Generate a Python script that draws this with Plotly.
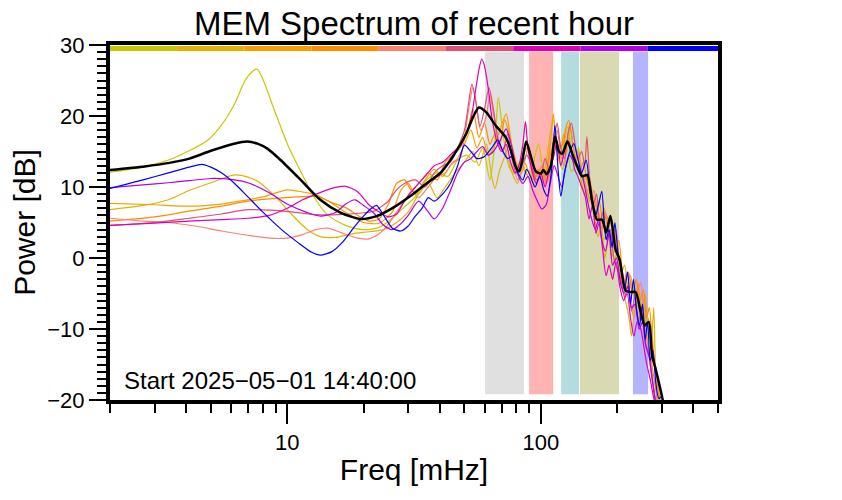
import plotly.graph_objects as go

# ---------------- data ----------------
# Mean spectrum (black)
mean_pts = [(2,12.4),(2.74,12.9),(3.43,13.4),(4.11,14.0),(5.0,15.1),(6.17,16.1),(6.97,16.4),(7.63,16.1),
            (8.35,15.4),(9.41,13.8),(11.3,11.0),(13.5,8.2),(16.2,6.4),(19.4,5.5),(22.5,5.9),(26.2,7.1),
            (30.5,8.7),(35.4,10.5),(40,11.9),(45,14.3),(50.8,17.5),(54,19.8),(57,21.2),(61,20.5),(66.9,18.5),
            (71,17.5),(73.3,16.8),(76.1,15.2),(79.6,12.9),(82.2,12.2),(84.6,13.8),(87.6,16.4),(91.4,14.3),
            (95.6,12.2),(100,11.9),(102.5,12.4),(105.3,11.8),(109.5,12.9),(113.8,17.1),(118,15.0),(121.6,14.7),
            (127.3,16.4),(133.1,14.7),(139.2,12.9),(145.5,11.5),(152.3,11.7),(159.2,8.2),(166.7,5.4),
            (174.5,5.4),(181.1,3.6),(188.2,5.9),(197.2,1.2),(204.6,-0.2),(216.1,-4.6),(226.1,-4.8),
            (236.6,-4.8),(247.7,-7.6),(257.1,-9.5),(266.6,-9.0),(274.7,-13.7),(283.2,-15.5),(291.6,-17.4),
            (300.7,-19.5),(306,-21)]

s1_pts = [(2,12.1),(2.7,12.8),(3.4,13.8),(4.1,15.1),(4.9,16.7),(5.5,18.7),(6.2,21.7),(6.9,25.3),(7.6,26.6),
          (8.9,20.8),(10,16.1),(11.3,12.2),(12.7,8.7),(14.5,6.0),(17,4.6),(20,4.0),(23,4.3),(26,5.6),(29,7.2),
          (32,8.6),(35,10.8),(39,12.0),(43,11.5),(47,13.8),(51,14.5),(55,13.5),(59,15.5),(63,11.0),(66,16.5),
          (68,22.6),(71,17.5),(75,12.8),(79,11.8),(83,13.5),(87,12.0),(91,11.3),(95,14.5),(98,16.1),(102,12.5),
          (106,11.0),(110,13.5),(114,17.0),(118,13.8),(122,12.5),(127,15.5),(132,12.2),(137,13.0),(141,15.6),
          (146,11.0),(152,9.5),(158,7.8),(164,5.5),(170,6.2),(177,2.5),(184,3.8),(191,0.3),(198,1.5),
          (206,-2.5),(214,-1.0),(222,-4.5),(230,-3.5),(238,-6.0),(246,-7.5),(254,-6.5),(262,-10.5),
          (270,-14.0),(278,-17.5),(286,-21)]

s2_pts = [(2,6.8),(2.7,7.4),(3.4,8.2),(4.1,9.5),(5,10.6),(6.2,11.7),(7,11.4),(7.8,10.6),(9,8.6),(10.5,6.0),
          (12,4.0),(13.5,3.0),(15.5,2.9),(18,3.4),(21,3.7),(24,4.0),(27,5.0),(30,6.5),(33,9.0),(36,10.5),
          (39,8.5),(42,10.0),(46,12.0),(50,13.5),(54,15.0),(57,13.0),(61,16.0),(64,11.5),(66,9.8),(69,12.5),
          (73,14.5),(77,12.0),(81,10.5),(85,13.0),(89,11.5),(93,10.0),(97,12.5),(101,11.0),(105,13.5),
          (109,17.5),(112,19.5),(116,15.0),(120,13.0),(124,16.5),(128,18.5),(132,15.0),(136,13.0),(140,14.0),
          (145,10.5),(150,9.0),(156,10.0),(162,6.5),(168,3.0),(173,4.5),(179,0.0),(185,3.0),(192,-1.0),
          (199,0.5),(206,-3.0),(214,-5.5),(222,-8.0),(228,-11.0),(235,-6.5),(242,-9.0),(250,-6.5),
          (258,-10.5),(266,-8.5),(272,-13.0),(279,-7.0),(283,-15.0),(288,-21)]

s3_pts = [(2,7.7),(3,7.5),(4.1,7.3),(5.5,7.6),(6.5,8.0),(8,8.6),(10,9.6),(11.5,9.3),(13,8.9),(15,7.7),
          (17,6.4),(20,5.0),(23,4.9),(26,6.5),(28,9.5),(30,10.5),(32,9.0),(35,11.0),(38,12.5),(41,11.5),
          (44,13.0),(47,14.0),(50,16.0),(53,18.0),(56,15.5),(59,17.0),(62,14.5),(65,15.5),(69,18.0),
          (73,20.3),(76,17.0),(79,13.5),(82,12.5),(86,13.5),(90,12.0),(94,11.0),(98,12.5),(102,10.5),
          (106,13.0),(109,16.0),(112,20.3),(115,16.5),(119,14.0),(123,17.5),(126,15.0),(130,19.0),
          (134,16.0),(138,13.5),(143,12.5),(148,11.0),(154,12.0),(160,9.0),(166,7.0),(172,5.5),(178,7.0),
          (184,4.0),(190,5.5),(196,1.0),(203,2.5),(210,-2.0),(218,-4.0),(226,-2.5),(234,-5.5),(242,-3.5),
          (250,-7.5),(258,-5.0),(265,-10.0),(272,-9.5),(279,-14.0),(286,-16.0),(293,-19.0),(298,-21)]

s4_pts = [(2,5.2),(3,5.8),(4.1,6.6),(5.5,7.3),(7,8.0),(9,8.4),(11,8.6),(13,8.7),(15,7.8),(17,7.1),(19,6.0),
          (21,5.2),(23,5.5),(25,7.5),(27,10.5),(29,11.0),(31,9.5),(33,10.5),(36,12.0),(39,11.0),(42,13.5),
          (45,14.5),(48,15.5),(51,17.5),(54,21.0),(57,17.0),(60,19.0),(63,16.0),(66,17.5),(69,16.0),
          (72,19.5),(75,17.5),(78,15.0),(81,13.0),(84,14.0),(88,15.5),(92,13.0),(96,11.5),(100,12.5),
          (104,11.0),(108,14.0),(111,15.5),(114,17.0),(118,15.5),(122,16.0),(126,18.5),(129,19.4),
          (133,16.5),(137,14.0),(142,12.0),(147,13.5),(152,11.0),(158,8.5),(164,6.5),(170,8.0),(176,5.0),
          (182,6.0),(188,3.0),(194,4.5),(200,0.5),(207,-1.0),(214,-3.5),(222,-2.0),(230,-5.0),(238,-3.0),
          (246,-6.0),(254,-4.5),(261,-8.5),(268,-7.0),(275,-12.0),(282,-15.0),(290,-18.5),(296,-21)]

s5_pts = [(2,5.6),(2.7,5.2),(3.4,5.0),(4.5,4.4),(5.5,3.8),(7,3.2),(8.5,2.8),(10,2.8),(11.5,3.3),(13,4.0),
          (14.5,4.2),(16.5,3.5),(19,2.8),(21,2.7),(23,3.4),(25,4.7),(27,6.5),(29,8.0),(31,9.5),(33,8.5),
          (36,10.0),(39,11.5),(42,12.0),(45,13.5),(48,14.0),(50,17.0),(52,21.0),(54,24.0),(56,21.0),
          (58,18.0),(61,20.0),(63,23.0),(66,19.0),(69,16.0),(72,14.5),(75,16.0),(78,13.5),(81,11.0),
          (85,12.5),(89,15.5),(93,12.5),(97,11.5),(101,13.0),(105,10.5),(109,12.0),(112,15.0),(116,18.0),
          (120,14.5),(124,13.0),(128,17.0),(132,15.5),(136,13.5),(140,15.0),(145,12.0),(150,10.5),
          (156,8.0),(162,9.5),(168,6.0),(174,4.0),(180,6.5),(186,3.5),(192,2.0),(198,4.0),(205,-1.0),
          (212,-3.5),(219,-2.0),(226,-6.0),(233,-8.5),(240,-5.0),(248,-3.5),(255,-8.0),(262,-11.5),
          (270,-13.5),(277,-16.0),(284,-18.5),(290,-21)]

s6_pts = [(2,4.6),(3,5.0),(4.1,5.6),(5.5,6.2),(7,6.8),(9,6.7),(11,6.4),(13,6.1),(16,6.1),(19,6.3),(22,6.6),
          (25,8.0),(27,9.6),(29,10.5),(32,11.0),(35,10.0),(38,12.0),(41,13.0),(44,13.5),(47,15.5),(50,18.0),
          (52,22.0),(53.5,24.5),(55.5,22.0),(57.5,18.5),(60,21.0),(62.5,24.0),(65,21.0),(68,16.5),(71,15.0),
          (74,17.5),(77,14.0),(80,12.0),(84,13.0),(88,14.5),(92,13.0),(96,11.0),(100,11.5),(104,14.0),
          (108,12.5),(112,15.5),(116,19.0),(120,15.5),(124,14.0),(128,17.5),(132,19.0),(136,16.5),
          (140,14.0),(145,15.0),(149,13.0),(152,17.1),(156,11.0),(161,7.5),(166,9.0),(171,4.5),(176,6.5),
          (182,2.5),(188,4.0),(194,0.0),(200,-1.5),(207,-3.0),(214,-5.5),(221,-4.0),(228,-7.5),(235,-5.5),
          (242,-9.0),(250,-7.0),(258,-12.0),(265,-13.0),(272,-16.0),(280,-19.0),(286,-21)]

s7_pts = [(2,4.6),(3,4.9),(4.1,5.2),(5.5,5.4),(7,5.6),(8.5,6.0),(10,7.0),(11.5,8.2),(13,9.0),(15,9.8),
          (17,10.1),(19,9.3),(21,7.5),(23,6.5),(25,5.8),(27,6.2),(29,8.0),(32,10.0),(35,11.5),(38,13.0),
          (41,13.5),(44,14.5),(47,15.5),(50,17.0),(53,19.5),(55,23.0),(57,26.5),(58.5,28.0),(60,27.0),
          (62,24.0),(64,20.0),(67,16.5),(70,15.0),(73,16.0),(76,13.5),(79,12.0),(82,13.0),(85,16.0),
          (87,19.2),(89,15.5),(92,12.5),(96,10.5),(100,12.0),(104,10.0),(108,12.5),(112,14.0),(116,16.5),
          (120,13.0),(124,15.0),(128,16.5),(132,15.0),(136,12.5),(140,11.5),(145,10.0),(150,8.5),(155,5.5),
          (160,7.5),(165,3.5),(170,5.0),(175,1.5),(181,-2.5),(186,-1.0),(192,-3.0),(198,-0.5),(205,-4.0),
          (212,-6.0),(219,-5.0),(226,-8.5),(233,-11.0),(240,-9.0),(248,-10.0),(255,-12.5),(262,-15.0),
          (270,-17.0),(278,-19.5),(285,-21)]

s8_pts = [(2,9.9),(2.7,10.3),(3.4,10.6),(4.1,10.9),(5,11.2),(6.2,11.0),(7,10.6),(8.5,9.2),(10,7.6),(12,6.4),
          (13.5,5.9),(15.5,6.4),(17,7.6),(18.5,8.2),(20,7.4),(22,6.3),(24,4.6),(26,4.0),(28,4.8),(30,6.0),
          (33,8.0),(36,6.5),(38,5.5),(41,7.0),(44,9.5),(47,12.0),(50,13.5),(53,14.0),(56,15.0),(59,15.7),
          (62,14.5),(65,15.0),(69,16.5),(73,18.2),(77,15.5),(81,11.9),(85,10.5),(89,11.5),(93,9.5),(97,8.0),
          (101,6.9),(105,7.5),(109,10.5),(113,13.0),(117,11.5),(121,10.0),(125,12.5),(130,14.5),(135,13.5),
          (141,12.9),(146,11.5),(151,9.0),(155,7.0),(159,5.4),(164,4.0),(169,5.5),(174,2.5),(180,1.0),
          (186,3.5),(192,-1.0),(199,0.0),(206,-3.5),(213,-5.0),(220,-4.0),(228,-7.0),(236,-6.5),(244,-10.0),
          (252,-9.0),(260,-12.5),(268,-14.0),(276,-17.5),(284,-20.5)]

s9_pts = [(2,9.8),(2.7,11.0),(3.4,12.0),(4.1,12.8),(4.6,13.2),(5,12.8),(5.5,12.0),(6.2,10.5),(7,8.6),(8,6.5),
          (9.5,4.0),(11,2.2),(12.5,0.8),(13.5,0.4),(15,0.9),(16.5,2.2),(18.5,4.5),(20,5.9),(21.5,7.0),
          (22.5,7.4),(24,6.0),(26,4.2),(28,3.8),(30,4.5),(32,5.9),(34,7.0),(36,8.5),(38,8.0),(41,9.0),
          (44,10.5),(47,13.0),(50,15.9),(53,15.0),(56,14.0),(60,14.3),(64,15.5),(67.6,16.6),(71,15.0),
          (74,14.0),(77,14.3),(80,12.5),(85,11.0),(88,12.5),(91,11.5),(95,10.0),(99,11.5),(103,9.5),
          (106,8.7),(110,12.0),(113.7,18.7),(117,12.5),(120,8.7),(124,12.0),(129,14.5),(135,16.1),(140,14.0),
          (145,12.0),(151,13.8),(157,9.0),(164,5.9),(169,7.5),(174,9.4),(178,5.0),(181,2.6),(186,4.0),
          (191,1.5),(196,5.0),(202,0.5),(208,-1.5),(214,-4.5),(220,-2.0),(226,-6.5),(232,-3.0),(238,-7.0),
          (245,-9.5),(252,-6.5),(258,-11.5),(264,-9.0),(270,-14.5),(277,-13.0),(284,-17.5),(292,-19.8),
          (300,-19.5),(305,-20.5)]

series_pts = [s1_pts, s2_pts, s3_pts, s4_pts, s5_pts, s6_pts, s7_pts, s8_pts, s9_pts]
series_colors = ["#c8c800", "#e0b400", "#f5a000", "#ff8c00", "#fa8072",
                 "#dc5078", "#e000b4", "#b400e6", "#0000ff"]

# shaded frequency bands [mHz]
band_lo = [60.3, 89.9, 120.3, 142.8, 231.0]
band_hi = [85.9, 111.9, 141.6, 203.6, 265.0]
band_colors = ["#e0e0e0", "#ffb3b3", "#b4dcdf", "#d9d9b4", "#b4b4ff"]
band_ymin, band_ymax = -19.2, 29.1

# colour key bar along the top (9 equal log segments from 2 to 500 mHz)
key_edges = [2.0, 3.68, 6.78, 12.48, 22.97, 42.28, 77.83, 143.3, 263.8, 500.0]
key_y = 29.5

x_major = [10, 100]
x_minor = [2, 3, 4, 5, 6, 7, 8, 9, 20, 30, 40, 50, 60, 70, 80, 90, 200, 300, 400, 500]
y_ticks = [-20, -10, 0, 10, 20, 30]

FONT = "Liberation Sans, Arial, Helvetica, sans-serif"

fig = go.Figure()

for lo, hi, c in zip(band_lo, band_hi, band_colors):
    fig.add_trace(go.Scatter(x=[lo, hi, hi, lo, lo],
                             y=[band_ymin, band_ymin, band_ymax, band_ymax, band_ymin],
                             fill="toself", fillcolor=c, mode="lines", line=dict(width=0),
                             hoverinfo="skip", showlegend=False))

for pts, c in zip(series_pts, series_colors):
    fig.add_trace(go.Scatter(x=[p[0] for p in pts], y=[p[1] for p in pts], mode="lines",
                             line=dict(color=c, width=1.2, shape="spline", smoothing=0.7),
                             showlegend=False))

fig.add_trace(go.Scatter(x=[p[0] for p in mean_pts], y=[p[1] for p in mean_pts], mode="lines",
                         line=dict(color="black", width=2.5, shape="spline", smoothing=0.7),
                         showlegend=False))

for i, c in enumerate(series_colors):
    fig.add_trace(go.Scatter(x=[key_edges[i], key_edges[i + 1]], y=[key_y, key_y], mode="lines",
                             line=dict(color=c, width=5), showlegend=False, hoverinfo="skip"))

fig.update_layout(
    width=842, height=500,
    margin=dict(l=102, r=132, t=37, b=108),
    paper_bgcolor="white", plot_bgcolor="white",
    font=dict(family=FONT, color="black"),
    title=dict(text="MEM Spectrum of recent hour", x=0.5, xref="paper", xanchor="center",
               y=0.970, yref="container", yanchor="middle", font=dict(size=33, family=FONT)),
    annotations=[dict(text="Start 2025\u221205\u221201 14:40:00", xref="paper", yref="paper",
                      x=0.02, y=0.054, xanchor="left", yanchor="middle", showarrow=False,
                      font=dict(size=24, family=FONT))],
)

fig.update_xaxes(type="log", range=[0.30103, 2.69897], showline=True, linecolor="black", linewidth=4,
                 mirror=True, showgrid=False, zeroline=False,
                 tickmode="array", tickvals=x_major, ticktext=[str(v) for v in x_major],
                 ticks="outside", ticklen=20, tickwidth=2, tickcolor="black",
                 tickfont=dict(size=22, family=FONT),
                 minor=dict(tickmode="array", tickvals=x_minor, ticks="outside", ticklen=9,
                            tickwidth=2, tickcolor="black", showgrid=False),
                 title=dict(text="Freq [mHz]", font=dict(size=30, family=FONT), standoff=6))

fig.update_yaxes(range=[-20, 30], showline=True, linecolor="black", linewidth=4, mirror=True,
                 showgrid=False, zeroline=False,
                 tickmode="array", tickvals=y_ticks,
                 ticks="outside", ticklen=17, tickwidth=2, tickcolor="black",
                 tickfont=dict(size=22, family=FONT),
                 minor=dict(dtick=1, ticks="outside", ticklen=9, tickwidth=2, tickcolor="black",
                            showgrid=False),
                 title=dict(text="Power [dB]", font=dict(size=30, family=FONT), standoff=4))

fig.write_html("out.html")
